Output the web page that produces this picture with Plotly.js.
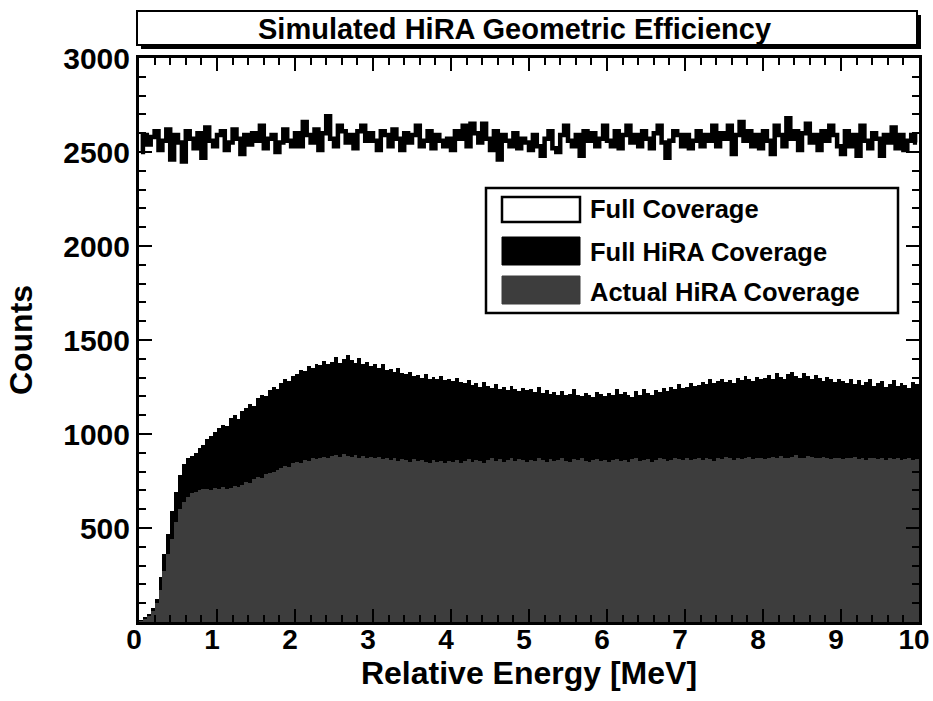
<!DOCTYPE html>
<html>
<head>
<meta charset="utf-8">
<script src="https://cdn.plot.ly/plotly-3.0.1.min.js"></script>
<style>html,body{margin:0;padding:0;background:#fff;}#chart{width:933px;height:701px;}</style>
</head>
<body>
<div id="chart"></div>
<script>
// ---- Data (histograms, 200 bins of 0.05 MeV from 0 to 10 MeV) ----
const binStart = 0.025;   // centre of first bin [MeV]
const binWidth = 0.05;    // bin width [MeV]

const seriesNames = ["Full Coverage", "Full HiRA Coverage", "Actual HiRA Coverage"];

const fullCoverage = [
  2500,2590,2540,2580,2610,2510,2560,2620,2460,2590,2550,2450,2610,2570,2520,2600,2470,2630,2560,2530,
  2590,2610,2510,2550,2620,2570,2490,2590,2540,2600,2560,2640,2520,2570,2590,2500,2550,2620,2560,2530,
  2600,2530,2660,2590,2550,2620,2510,2600,2690,2570,2530,2640,2610,2550,2590,2520,2610,2640,2560,2600,
  2560,2510,2610,2590,2530,2620,2570,2510,2600,2550,2590,2640,2530,2560,2610,2520,2590,2560,2530,2570,
  2510,2610,2570,2640,2530,2650,2600,2550,2650,2570,2510,2610,2460,2590,2560,2530,2600,2520,2570,2550,
  2510,2590,2530,2480,2570,2610,2520,2500,2590,2640,2560,2530,2590,2480,2610,2560,2600,2530,2570,2640,
  2560,2530,2610,2520,2590,2640,2550,2590,2530,2610,2570,2520,2600,2640,2550,2470,2560,2610,2590,2530,
  2590,2520,2560,2610,2530,2590,2560,2640,2530,2600,2570,2640,2490,2590,2660,2560,2610,2530,2590,2520,
  2610,2560,2490,2640,2590,2530,2680,2570,2610,2510,2600,2650,2550,2590,2510,2610,2560,2640,2590,2530,
  2490,2610,2530,2590,2480,2640,2560,2520,2600,2570,2480,2590,2550,2630,2520,2590,2510,2560,2590,2550
];

const fullHiRA = [
  10,25,45,75,120,240,360,470,590,690,780,840,870,885,900,925,940,975,990,1010,
  1030,1050,1040,1085,1100,1080,1120,1140,1160,1150,1190,1210,1200,1235,1250,1240,1270,1290,1280,1310,
  1320,1340,1335,1360,1350,1375,1365,1390,1370,1385,1410,1380,1400,1420,1395,1380,1405,1370,1385,1360,
  1375,1350,1370,1340,1345,1330,1350,1325,1320,1330,1310,1315,1300,1320,1295,1305,1290,1310,1285,1295,
  1280,1300,1275,1270,1285,1260,1270,1250,1275,1255,1245,1265,1240,1250,1235,1255,1240,1230,1245,1235,
  1240,1225,1250,1220,1235,1215,1225,1210,1230,1205,1215,1240,1210,1200,1220,1210,1195,1225,1215,1200,
  1220,1210,1240,1215,1225,1205,1195,1230,1210,1240,1220,1205,1235,1225,1245,1230,1250,1240,1265,1245,
  1250,1270,1255,1260,1275,1265,1290,1270,1280,1295,1275,1285,1270,1300,1285,1310,1295,1280,1305,1290,
  1300,1315,1295,1325,1305,1290,1320,1330,1310,1300,1325,1310,1295,1315,1300,1280,1305,1290,1275,1295,
  1280,1270,1295,1265,1285,1260,1275,1290,1255,1270,1280,1250,1265,1285,1255,1270,1260,1245,1275,1265
];

const actualHiRA = [
  5,15,30,60,100,170,270,360,440,530,600,640,665,685,690,700,705,710,700,715,
  710,720,705,715,725,718,730,745,740,760,770,765,785,790,800,810,820,830,825,845,
  850,845,860,855,870,865,875,880,870,885,890,880,895,885,880,890,870,885,875,880,
  870,880,865,875,860,870,855,865,860,850,865,855,860,850,845,860,850,855,845,855,
  850,860,845,855,865,850,860,855,845,860,870,855,865,850,860,870,855,865,860,850,
  860,855,870,860,850,865,855,860,870,855,850,865,860,870,855,850,860,865,855,860,
  850,860,865,855,860,850,865,870,855,860,865,850,860,870,865,855,860,875,865,860,
  870,860,865,875,860,870,865,855,870,865,880,870,860,875,865,870,880,865,875,870,
  865,875,880,870,885,875,870,880,890,875,870,885,880,870,875,880,870,865,875,870,
  865,875,870,880,865,875,860,870,875,865,870,860,875,865,870,860,865,870,860,865
];

const xTickVals = [0,1,2,3,4,5,6,7,8,9,10];
const xTickText = ["0","1","2","3","4","5","6","7","8","9","10"];
const yTickVals = [500,1000,1500,2000,2500,3000];
const yTickText = ["500","1000","1500","2000","2500","3000"];

const chartTitle = "Simulated HiRA Geometric Efficiency";
const xTitle = "Relative Energy [MeV]";
const yTitle = "Counts";

// ---- Styling ----
const FONT = "Liberation Sans, Arial, Helvetica, sans-serif";
const GRAY = "#3d3d3d";
const W = 933, H = 701;
const M = {l: 139, r: 14, t: 58, b: 79};
const PW = W - M.l - M.r, PH = H - M.t - M.b;
const px = x => (x - M.l) / PW;          // pixel -> paper x
const py = y => (H - M.b - y) / PH;      // pixel -> paper y

const traces = [
  {
    name: seriesNames[1], type: "bar", x0: binStart, dx: binWidth, y: fullHiRA,
    marker: {color: "#000000", line: {width: 0}}, width: binWidth, showlegend: false
  },
  {
    name: seriesNames[2], type: "bar", x0: binStart, dx: binWidth, y: actualHiRA,
    marker: {color: GRAY, line: {width: 0}}, width: binWidth, showlegend: false
  },
  {
    name: seriesNames[0], type: "scatter", mode: "lines", x0: binStart, dx: binWidth, y: fullCoverage,
    line: {color: "#000000", width: 4.5, shape: "hvh"}, showlegend: false
  }
];

const shapes = [
  // title box shadow + box
  {type: "rect", xref: "paper", yref: "paper", x0: px(141), x1: px(921), y0: py(49), y1: py(15),
   fillcolor: "#000", line: {width: 0}, layer: "above"},
  {type: "rect", xref: "paper", yref: "paper", x0: px(137), x1: px(917), y0: py(45), y1: py(11),
   fillcolor: "#fff", line: {color: "#000", width: 2}, layer: "above"},
  // legend box
  {type: "rect", xref: "paper", yref: "paper", x0: px(486), x1: px(898), y0: py(313), y1: py(188),
   fillcolor: "#fff", line: {color: "#000", width: 2.5}, layer: "above"},
  // legend swatches
  {type: "rect", xref: "paper", yref: "paper", x0: px(502), x1: px(580), y0: py(222), y1: py(197),
   fillcolor: "#fff", line: {color: "#000", width: 2.5}, layer: "above"},
  {type: "rect", xref: "paper", yref: "paper", x0: px(502), x1: px(580), y0: py(265), y1: py(237),
   fillcolor: "#000", line: {color: "#000", width: 1}, layer: "above"},
  {type: "rect", xref: "paper", yref: "paper", x0: px(502), x1: px(580), y0: py(304), y1: py(276),
   fillcolor: GRAY, line: {color: GRAY, width: 1}, layer: "above"}
];

const legFont = {family: FONT, size: 25.5, color: "#000", weight: "bold"};
const annotations = [
  {text: chartTitle, xref: "paper", yref: "paper", x: px(514), y: py(29), showarrow: false,
   xanchor: "center", yanchor: "middle", font: {family: FONT, size: 29, color: "#000", weight: "bold"}},
  {text: seriesNames[0], xref: "paper", yref: "paper", x: px(588), y: py(209), showarrow: false,
   xanchor: "left", yanchor: "middle", font: legFont},
  {text: seriesNames[1], xref: "paper", yref: "paper", x: px(588), y: py(252), showarrow: false,
   xanchor: "left", yanchor: "middle", font: legFont},
  {text: seriesNames[2], xref: "paper", yref: "paper", x: px(588), y: py(292), showarrow: false,
   xanchor: "left", yanchor: "middle", font: legFont}
];

const xTickFont = {family: FONT, size: 28, color: "#000", weight: "bold"};
const yTickFont = {family: FONT, size: 30, color: "#000", weight: "bold"};
const titleFont = {family: FONT, size: 32, color: "#000", weight: "bold"};

const layout = {
  width: W, height: H,
  margin: M,
  paper_bgcolor: "#fff", plot_bgcolor: "#fff",
  barmode: "overlay", bargap: 0,
  showlegend: false,
  xaxis: {
    range: [0, 10], tickvals: xTickVals, ticktext: xTickText,
    ticks: "inside", ticklen: 13, tickwidth: 2.5, tickcolor: "#000",
    minor: {ticks: "inside", dtick: 0.2, tick0: 0, ticklen: 7, tickwidth: 2, tickcolor: "#000"},
    showline: true, linecolor: "#000", linewidth: 3, mirror: "allticks",
    showgrid: false, zeroline: false, tickfont: xTickFont,
    ticklabeloverflow: "allow", ticklabelstandoff: -10, ticklabelshift: -5,
    title: {text: xTitle, font: titleFont, standoff: 0}, automargin: false
  },
  yaxis: {
    range: [0, 3000], tickvals: yTickVals, ticktext: yTickText,
    ticks: "inside", ticklen: 13, tickwidth: 2.5, tickcolor: "#000",
    minor: {ticks: "inside", dtick: 100, tick0: 0, ticklen: 7, tickwidth: 2, tickcolor: "#000"},
    showline: true, linecolor: "#000", linewidth: 3, mirror: "allticks",
    showgrid: false, zeroline: false, tickfont: yTickFont,
    title: {text: yTitle, font: titleFont, standoff: 22}, automargin: false
  },
  shapes: shapes,
  annotations: annotations
};

Plotly.newPlot("chart", traces, layout, {displayModeBar: false, staticPlot: true});
</script>
</body>
</html>
